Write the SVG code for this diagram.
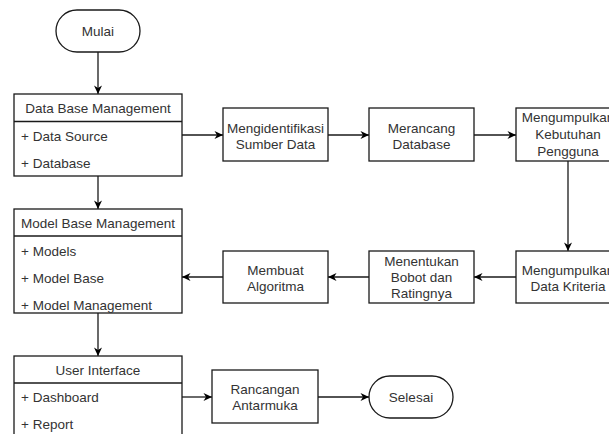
<svg xmlns="http://www.w3.org/2000/svg" width="609" height="434" viewBox="0 0 609 434">
<defs>
<marker id="arr" markerWidth="10" markerHeight="10" refX="9" refY="5" orient="auto" markerUnits="userSpaceOnUse">
<path d="M0.5,1 L9,5 L0.5,9 L3,5 z" fill="#000"/>
</marker>
<style>
.box{fill:#fff;stroke:#1a1a1a;stroke-width:1.3}
.t{font-family:"Liberation Sans",Arial,sans-serif;font-size:13.5px;fill:#333}
.c{text-anchor:middle}
.con line{stroke:#1a1a1a;stroke-width:1.3;marker-end:url(#arr)}
</style>
</defs>
<rect width="609" height="434" fill="#fff"/>
<g class="con">
<line x1="98" y1="52" x2="98" y2="94"/>
<line x1="98" y1="176" x2="98" y2="209"/>
<line x1="98" y1="313" x2="98" y2="356"/>
<line x1="182" y1="135" x2="223" y2="135"/>
<line x1="328" y1="135" x2="369" y2="135"/>
<line x1="474" y1="135" x2="516" y2="135"/>
<line x1="568" y1="161" x2="568" y2="251"/>
<line x1="516" y1="277" x2="474" y2="277"/>
<line x1="369" y1="277" x2="328" y2="277"/>
<line x1="223" y1="277" x2="182" y2="277"/>
<line x1="182" y1="397" x2="212" y2="397"/>
<line x1="318" y1="397" x2="369" y2="397"/>
</g>
<g id="mulai"><rect class="box" x="56" y="10" width="84" height="42" rx="21"/><text class="t c" x="98" y="36">Mulai</text></g>
<g id="dbm"><rect class="box" x="14" y="94" width="168" height="82"/><line x1="14" y1="121.5" x2="182" y2="121.5" stroke="#1a1a1a" stroke-width="1.3"/>
<text class="t c" x="98" y="113">Data Base Management</text>
<text class="t" x="21" y="141">+ Data Source</text>
<text class="t" x="21" y="168">+ Database</text></g>
<g id="mbm"><rect class="box" x="14" y="209" width="168" height="104"/><line x1="14" y1="236" x2="182" y2="236" stroke="#1a1a1a" stroke-width="1.3"/>
<text class="t c" x="98" y="227.5">Model Base Management</text>
<text class="t" x="21" y="256">+ Models</text>
<text class="t" x="21" y="283">+ Model Base</text>
<text class="t" x="21" y="310">+ Model Management</text></g>
<g id="ui"><rect class="box" x="14" y="356" width="168" height="90"/><line x1="14" y1="383" x2="182" y2="383" stroke="#1a1a1a" stroke-width="1.3"/>
<text class="t c" x="98" y="374.5">User Interface</text>
<text class="t" x="21" y="402">+ Dashboard</text>
<text class="t" x="21" y="429">+ Report</text></g>
<g id="identifikasi"><rect class="box" x="223" y="108" width="105" height="53"/><text class="t c" x="275.5" y="132.5">Mengidentifikasi</text><text class="t c" x="275.5" y="148.5">Sumber Data</text></g>
<g id="merancang"><rect class="box" x="369" y="108" width="105" height="53"/><text class="t c" x="421.5" y="132.5">Merancang</text><text class="t c" x="421.5" y="148.5">Database</text></g>
<g id="kebutuhan"><rect class="box" x="516" y="108" width="105" height="53"/><text class="t c" x="568" y="122">Mengumpulkan</text><text class="t c" x="568" y="139">Kebutuhan</text><text class="t c" x="568" y="155.5">Pengguna</text></g>
<g id="kriteria"><rect class="box" x="516" y="251" width="105" height="52"/><text class="t c" x="568" y="274.5">Mengumpulkan</text><text class="t c" x="568" y="290.5">Data Kriteria</text></g>
<g id="menentukan"><rect class="box" x="369" y="251" width="105" height="52"/><text class="t c" x="421.5" y="265.5">Menentukan</text><text class="t c" x="421.5" y="282">Bobot dan</text><text class="t c" x="421.5" y="298">Ratingnya</text></g>
<g id="membuat"><rect class="box" x="223" y="251" width="105" height="52"/><text class="t c" x="275.5" y="274.5">Membuat</text><text class="t c" x="275.5" y="290.5">Algoritma</text></g>
<g id="rancangan"><rect class="box" x="212" y="370" width="106" height="53"/><text class="t c" x="265" y="393.5">Rancangan</text><text class="t c" x="265" y="409.5">Antarmuka</text></g>
<g id="selesai"><rect class="box" x="369" y="376" width="84" height="42" rx="21"/><text class="t c" x="411" y="402">Selesai</text></g>
</svg>
